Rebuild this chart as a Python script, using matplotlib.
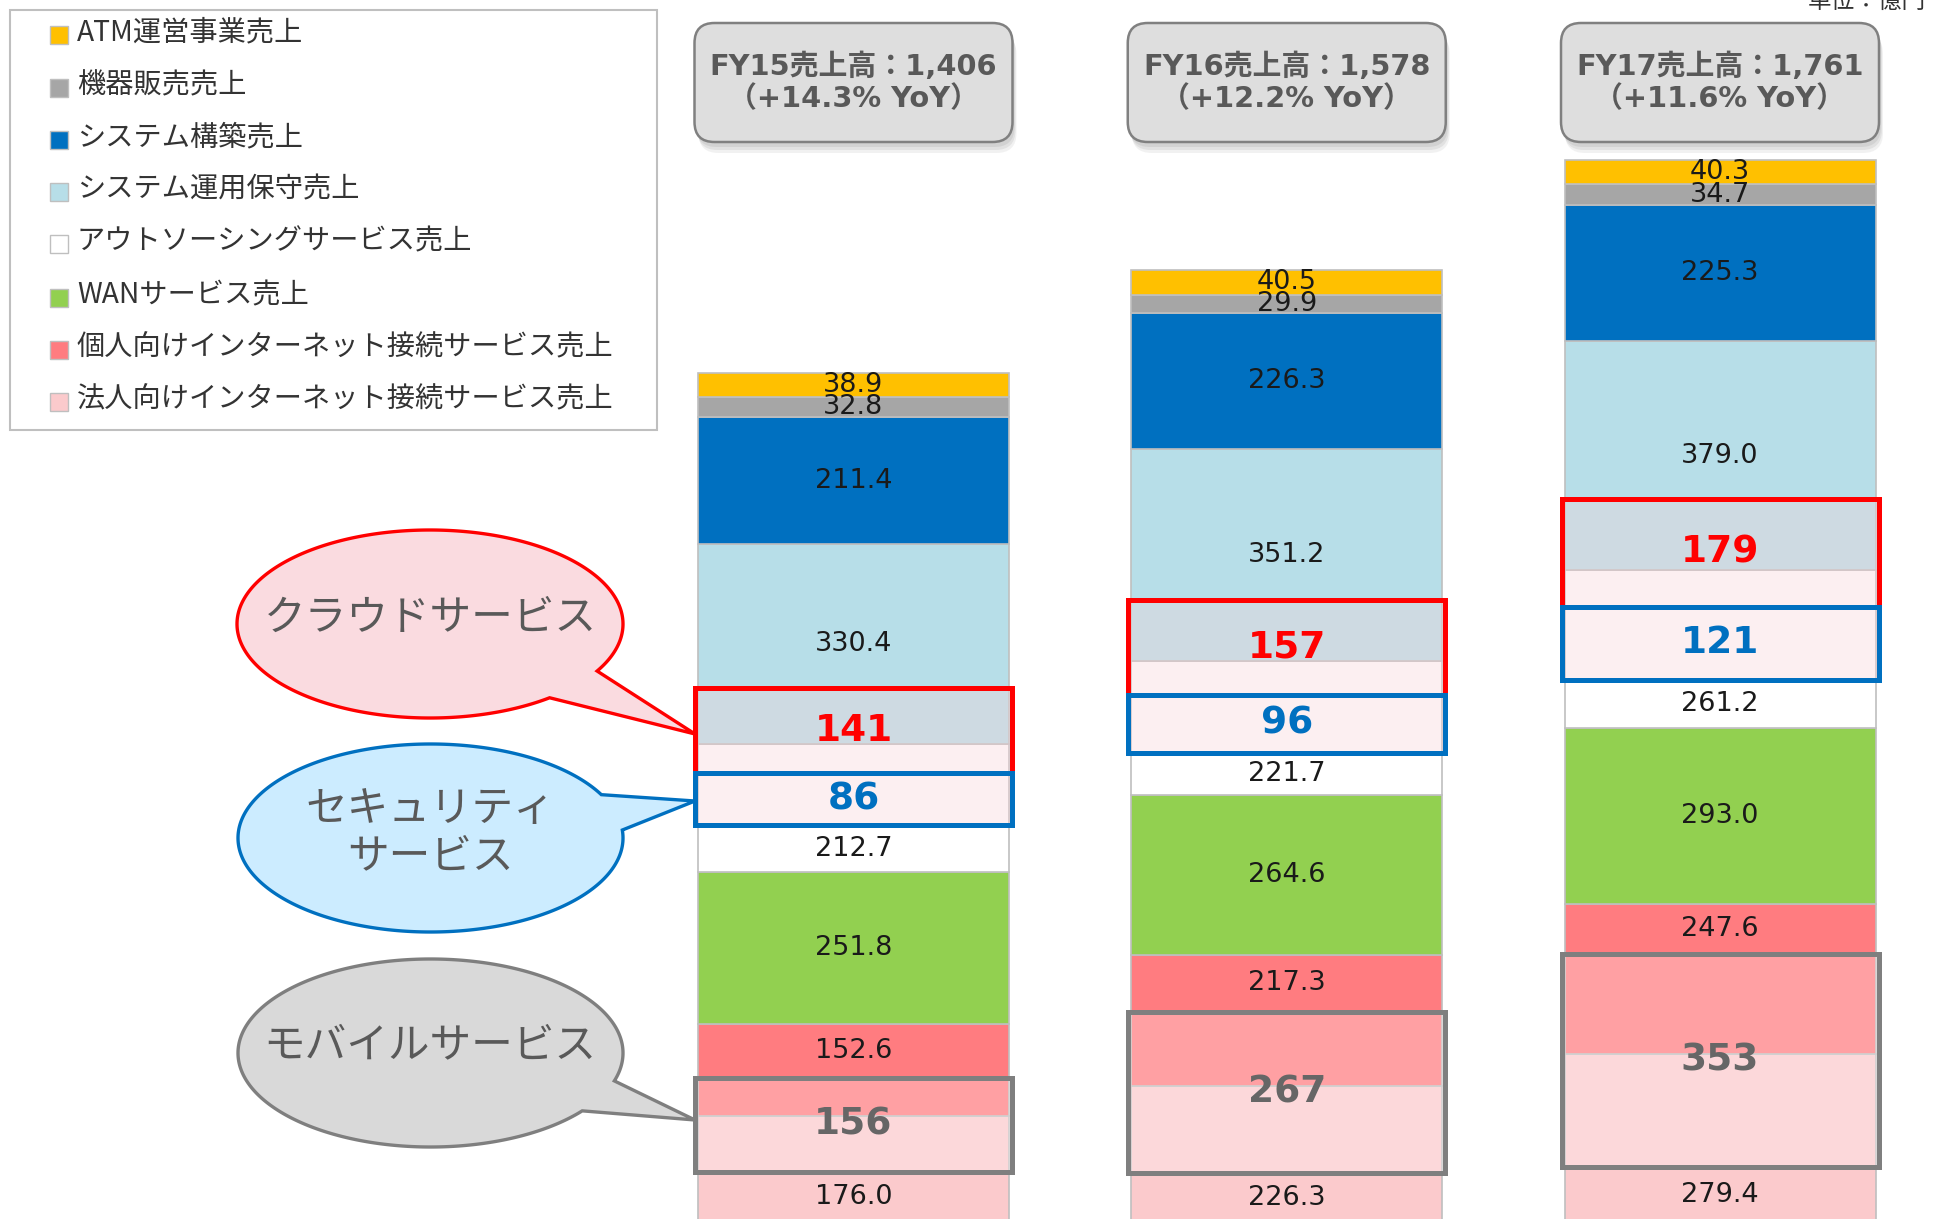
import numpy as np
import matplotlib.pyplot as plt
from matplotlib.patches import Rectangle, FancyBboxPatch, Polygon

plt.rcParams['font.family'] = ['DejaVu Sans', 'Noto Sans CJK JP']

# data
years = ['FY15', 'FY16', 'FY17']
totals = [1406, 1578, 1761]
yoy = [14.3, 12.2, 11.6]

# stack order: bottom -> top
seg_names = ['法人向けインターネット接続サービス売上', '個人向けインターネット接続サービス売上',
             'WANサービス売上', 'アウトソーシングサービス売上', 'システム運用保守売上',
             'システム構築売上', '機器販売売上', 'ATM運営事業売上']
corp_isp = [176.0, 226.3, 279.4]
personal_isp = [152.6, 217.3, 247.6]
wan = [251.8, 264.6, 293.0]
outsourcing = [212.7, 221.7, 261.2]
sys_ops = [330.4, 351.2, 379.0]
sys_build = [211.4, 226.3, 225.3]
equipment = [32.8, 29.9, 34.7]
atm = [38.9, 40.5, 40.3]
seg_values = [corp_isp, personal_isp, wan, outsourcing, sys_ops, sys_build, equipment, atm]
seg_colors = ['#FBCACC', '#FF7C80', '#92D050', '#FFFFFF', '#B7DEE8', '#0070C0', '#A6A6A6', '#FFC000']

# highlighted service totals
cloud = [141, 157, 179]
security = [86, 96, 121]
mobile = [156, 267, 353]

# layout (where the highlight boxes start, in 億円 units)
security_base = [658, 778, 899]
mobile_base = [84, 82, 92]

W, H = 1950, 1219
PX_X = 433.25          # pixels between bars
BAR0 = 853.5           # pixel x of first bar
PX_Y = 0.6036          # pixels per 億円
BASE = 1222.5          # pixel y of zero (just under the bottom edge)
BAR_W = 311 / PX_X

fig = plt.figure(figsize=(W / 100, H / 100), dpi=100)
ax = fig.add_axes([0, 0, 1, 1])
ax.set_xlim(-BAR0 / PX_X, (W - BAR0) / PX_X)
ax.set_ylim((BASE - H) / PX_Y, BASE / PX_Y)
ax.axis('off')

x = np.arange(len(years))
bottom = np.zeros(len(years))
seg_ranges = []
for vals, col in zip(seg_values, seg_colors):
    vals = np.array(vals)
    ax.bar(x, vals, width=BAR_W, bottom=bottom, color=col, edgecolor='#BFBFBF',
           linewidth=1.2, zorder=2)
    seg_ranges.append((bottom.copy(), bottom + vals))
    bottom = bottom + vals

# highlight boxes
pad = 3 / PX_X
boxes = []
for i in range(len(years)):
    sec = (security_base[i], security_base[i] + security[i])
    cld = (sec[1], sec[1] + cloud[i])
    mob = (mobile_base[i], mobile_base[i] + mobile[i])
    boxes.append([sec, cld, mob])
    for (b0, b1), fc, alpha, ec, tc, val in [
            (cld, '#F9D3D9', 0.35, '#FF0000', '#FF0000', cloud[i]),
            (sec, '#F9D3D9', 0.35, '#0070C0', '#0070C0', security[i]),
            (mob, '#FFFFFF', 0.28, '#7F7F7F', '#666666', mobile[i])]:
        xl = i - BAR_W / 2 - pad
        ax.add_patch(Rectangle((xl, b0), BAR_W + 2 * pad, b1 - b0, facecolor=fc,
                               alpha=alpha, edgecolor='none', zorder=3))
        ax.add_patch(Rectangle((xl, b0), BAR_W + 2 * pad, b1 - b0, facecolor='none',
                               edgecolor=ec, linewidth=3.6, zorder=4))
        ax.text(i, (b0 + b1) / 2, str(val), ha='center', va='center', fontsize=27,
                fontweight='bold', color=tc, zorder=5)


def label_y(lo, hi, bxs, margin=20):
    # put the label in the middle, or in the largest part not under a box
    c = (lo + hi) / 2
    if not any(b0 - margin < c < b1 + margin for b0, b1 in bxs):
        return c
    pieces = [(lo, hi)]
    for b0, b1 in bxs:
        new = []
        for p0, p1 in pieces:
            if b1 <= p0 or b0 >= p1:
                new.append((p0, p1))
                continue
            if p0 < b0:
                new.append((p0, b0))
            if b1 < p1:
                new.append((b1, p1))
        pieces = new
    p0, p1 = max(pieces, key=lambda p: p[1] - p[0])
    return (p0 + p1) / 2


for vals, (lo, hi) in zip(seg_values, seg_ranges):
    for i in range(len(years)):
        y = label_y(lo[i], hi[i], boxes[i])
        ax.text(i, y, f'{vals[i]:.1f}', ha='center', va='center', fontsize=19.5,
                color='#1A1A1A', zorder=3.5)

# overlay in pixel coordinates
ov = fig.add_axes([0, 0, 1, 1], zorder=3)
ov.set_xlim(0, W)
ov.set_ylim(H, 0)
ov.axis('off')
ov.patch.set_alpha(0)

# legend
ov.add_patch(Rectangle((10, 10), 647, 420, facecolor='white', edgecolor='#BFBFBF', lw=1.5))
rows = [32, 85, 137, 189, 241, 295, 347, 399]
for r, name, col in zip(rows, seg_names[::-1], seg_colors[::-1]):
    ov.add_patch(Rectangle((50, r - 6), 18, 18, facecolor=col, edgecolor='#BFBFBF', lw=1))
    ov.text(77, r, name, ha='left', va='center', fontsize=20.3, color='#333333',
            family=['Noto Sans CJK JP'])

# header boxes
for i in range(len(years)):
    cx = BAR0 + i * PX_X
    for dx, dy, a in [(2, 5, 0.10), (3, 8, 0.10), (4, 11, 0.08)]:
        ov.add_patch(FancyBboxPatch((cx - 159 + dx, 23 + dy), 318, 119,
                                    boxstyle='round,pad=0,rounding_size=20',
                                    facecolor='#555555', edgecolor='none', alpha=a))
    ov.add_patch(FancyBboxPatch((cx - 159, 23), 318, 119,
                                boxstyle='round,pad=0,rounding_size=20',
                                facecolor='#DEDEDE', edgecolor='#808080', lw=1.8))
    ov.text(cx, 83, f'{years[i]}売上高：{totals[i]:,}\n（+{yoy[i]}% YoY）', ha='center',
            va='center', fontsize=20.8, fontweight='bold', color='#595959', linespacing=1.2)

ov.text(1808, 14, '単位：億円', ha='left', va='bottom', fontsize=17, color='#333333',
        family=['Noto Sans CJK JP'])


def bubble(cx, cy, a, b, base1, base2, tip, fc, ec):
    t1 = np.arctan2((base1[1] - cy) / b, (base1[0] - cx) / a)
    t2 = np.arctan2((base2[1] - cy) / b, (base2[0] - cx) / a)
    lo, hi = sorted([t1, t2])
    t = np.linspace(hi, lo + 2 * np.pi, 400)
    pts = np.column_stack([cx + a * np.cos(t), cy + b * np.sin(t)])
    pts = np.vstack([pts, tip])
    ov.add_patch(Polygon(pts, closed=True, facecolor=fc, edgecolor=ec, lw=2.4,
                         joinstyle='miter'))


bubble(430, 624, 193, 94, (597, 671), (550, 698), (695, 734), '#FADBE0', '#FF0000')
bubble(430.5, 838, 192.5, 94, (600, 795), (623, 830), (695, 801), '#CCECFF', '#0070C0')
bubble(430.5, 1053, 192.5, 94, (615, 1081), (580, 1110), (695, 1120), '#D9D9D9', '#7F7F7F')

bub_kw = dict(ha='center', va='center', fontsize=30, color='#595959',
              family=['Noto Sans CJK JP'])
ov.text(430, 618, 'クラウドサービス', **bub_kw)
ov.text(430, 833, 'セキュリティ\nサービス', linespacing=1.2, **bub_kw)
ov.text(430, 1046, 'モバイルサービス', **bub_kw)

fig.savefig('out.png', dpi=100)
